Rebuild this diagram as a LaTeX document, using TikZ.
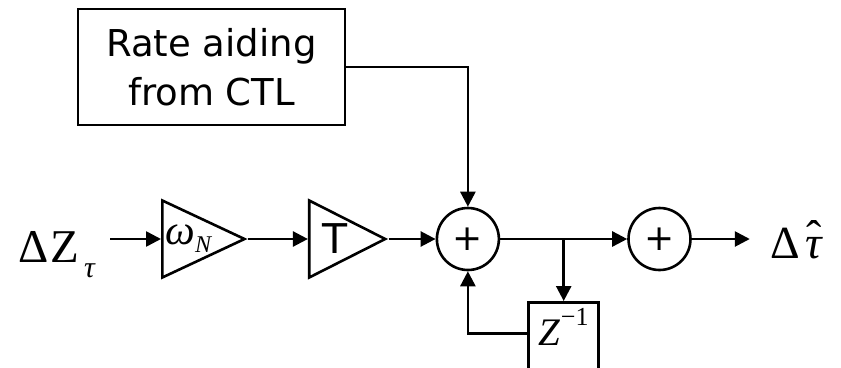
\documentclass[tikz,border=0pt]{standalone}
\usepackage{fontspec}
\setmainfont{Liberation Serif}
\newfontfamily\boxfont{DejaVu Sans}
\usetikzlibrary{positioning,shapes.geometric,arrows.meta,calc}

\tikzset{
    sig/.style={line width=2.6pt, -{Triangle[length=15pt,width=15pt]}},
    gain/.style={draw, line width=2.6pt, isosceles triangle, isosceles triangle stretches,
        minimum width=77pt, minimum height=76pt, inner sep=0pt},
    adder/.style={draw, line width=2.6pt, circle, minimum size=62pt, inner sep=0pt,
        font=\boxfont\fontsize{36}{36}\selectfont},
    blk/.style={draw, line width=2.6pt, rectangle, inner sep=0pt},
}

\begin{document}
\begin{tikzpicture}[x=1pt, y=-1pt]
    \useasboundingbox (0,0) rectangle (841,367);

    \node [gain, anchor=west, font=\fontsize{42}{42}\selectfont] (wn) at (161,239)
        {\kern2pt\textit{ω}\raisebox{-8pt}{\fontsize{24}{24}\selectfont\textit{N}}};
    \node [gain, right=60pt of wn.apex, font=\boxfont\fontsize{41}{41}\selectfont] (tg) {\kern9pt T};
    \node [adder, right=47pt of tg.apex] (s1) {+};
    \node [adder, right=127pt of s1] (s2) {+};

    \node [left=51pt of wn, yshift=-16pt, inner xsep=14pt, inner ysep=0pt,
        font=\fontsize{47}{47}\selectfont] (in)
        {Δ\kern2pt Z\kern5pt\raisebox{-15pt}{\fontsize{30}{30}\selectfont\textit{τ}}};
    \node [right=58pt of s2, yshift=-4pt, inner xsep=20pt, inner ysep=0pt,
        font=\fontsize{46}{46}\selectfont] (out)
        {Δ\kern6pt\ooalign{\textit{τ}\cr\hidewidth\raisebox{6pt}{ˆ}\hidewidth\cr}};

    \node [blk, align=center, minimum width=267pt, minimum height=116pt,
        font=\boxfont\fontsize{37}{49}\selectfont] (rate) at (211.5,67)
        {Rate aiding\\from CTL};

    \coordinate (br) at ($(s1.east)!0.5!(s2.west)$);
    \node [blk, below=62pt of br, minimum width=70pt, minimum height=70pt, text depth=21pt,
        font=\fontsize{39}{39}\selectfont] (zd)
        {\textit{Z}\raisebox{20pt}{\fontsize{26}{26}\selectfont −1}};

    \draw [sig] (in.east |- wn.west) -- (wn.west);
    \draw [sig] (wn.apex) -- (tg.west);
    \draw [sig] (tg.apex) -- (s1.west);
    \draw [sig] (s1.east) -- (s2.west);
    \draw [sig] (s2.east) -- (out.west |- s2.east);
    \draw [sig] (rate.east) -| (s1.north);
    \draw [sig] (br) -- (zd.north);
    \draw [sig] ([yshift=4pt]zd.west) -| (s1.south);

\end{tikzpicture}
\end{document}
